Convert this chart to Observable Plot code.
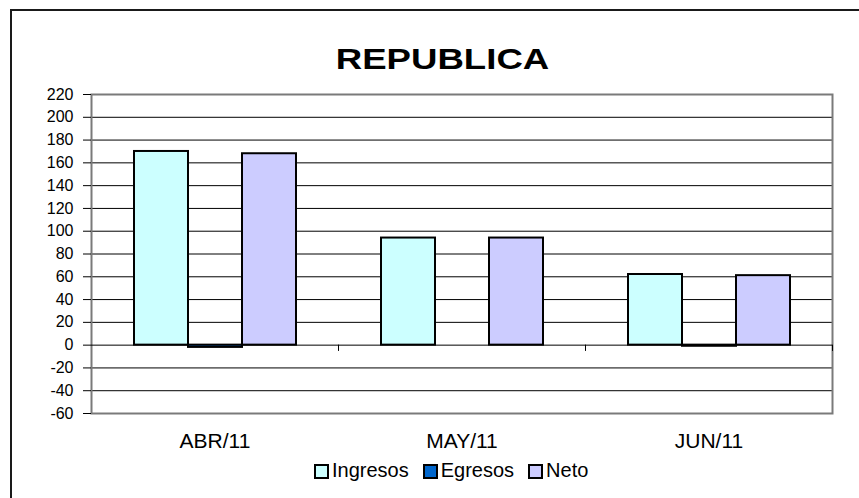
<!DOCTYPE html>
<html>
<head>
<meta charset="utf-8">
<script src="https://cdn.jsdelivr.net/npm/d3@7"></script>
<script src="https://cdn.jsdelivr.net/npm/@observablehq/plot@0.6"></script>
<style>
  html, body { margin: 0; padding: 0; background: #fff; }
  #wrap { position: relative; width: 859px; height: 498px; overflow: hidden; background: #fff;
          font-family: "Liberation Sans", Arial, Helvetica, sans-serif; color: #000; }
  #chart { position: absolute; left: 0; top: 0; }
  #frame { position: absolute; left: 10px; top: 9px; width: 900px; height: 600px;
           border: 2px solid #1a1a1a; box-sizing: border-box; pointer-events: none; }
  #title { position: absolute; left: 0; width: 885px; top: 44px; text-align: center;
           font-size: 30px; line-height: 30px; font-weight: bold; }
  #title span { display: inline-block; transform: scaleX(1.22); }
  #legend { position: absolute; left: 314px; top: 460px; display: flex; align-items: center;
            font-size: 20px; line-height: 20px; white-space: nowrap; }
  #legend .sw { width: 15px; height: 15px; box-sizing: border-box; border: 2px solid #000;
                margin-right: 3px; position: relative; top: 1.5px; }
  #legend .it { display: flex; align-items: center; margin-right: 14px; }
</style>
</head>
<body>
<div id="wrap">
  <div id="chart"></div>
  <div id="title"><span>REPUBLICA</span></div>
  <div id="legend"></div>
  <div id="frame"></div>
</div>
<script>
// ---- data ----
const months = ["ABR/11", "MAY/11", "JUN/11"];
const series = ["Ingresos", "Egresos", "Neto"];
const ingresos = [170, 94, 62];
const egresos = [-2, 0, -1];
const neto = [168, 94, 61];
const yTicks = [-60, -40, -20, 0, 20, 40, 60, 80, 100, 120, 140, 160, 180, 200, 220];
const colors = ["#CCFFFF", "#0066CC", "#CCCCFF"];

const valuesBySeries = [ingresos, egresos, neto];
const data = [];
months.forEach((m, i) => series.forEach((s, j) => data.push({month: m, series: s, value: valuesBySeries[j][i]})));

const yMin = yTicks[0], yMax = yTicks[yTicks.length - 1];
const innerGrid = yTicks.filter(t => t !== yMin && t !== yMax && t !== 0);

const chart = Plot.plot({
  width: 859,
  height: 498,
  marginLeft: 90,
  marginRight: 26,
  marginTop: 94,
  marginBottom: 85,
  style: {background: "transparent", fontFamily: "'Liberation Sans', Arial, sans-serif", color: "#000"},
  fx: {domain: months, padding: 0, label: null},
  x: {domain: series, paddingInner: 0, paddingOuter: 0.75, axis: null},
  y: {domain: [yMin, yMax], label: null},
  color: {domain: series, range: colors},
  marks: [
    Plot.ruleY(innerGrid, {stroke: "#000", strokeWidth: 1}),
    Plot.frame({facet: "super", stroke: "#7a7a7a", strokeWidth: 2}),
    Plot.ruleY([0], {stroke: "#000", strokeWidth: 1}),
    Plot.ruleX(months, {fx: d => d, x: () => "Neto", dx: 69, y1: 0, y2: -5.5, stroke: "#000", strokeWidth: 1}),
    Plot.barY(data, {fx: "month", x: "series", y: "value", fill: "series", stroke: "#000", strokeWidth: 2}),
    Plot.axisY({ticks: yTicks, tickFormat: d => String(d), tickSize: 8, tickPadding: 10, fontSize: 16, stroke: "#000", label: null}),
    Plot.axisFx({anchor: "bottom", tickSize: 0, tickPadding: 20, fontSize: 21, label: null})
  ]
});
document.getElementById("chart").appendChild(chart);

// legend
const legend = document.getElementById("legend");
series.forEach((s, j) => {
  const it = document.createElement("div");
  it.className = "it";
  const sw = document.createElement("div");
  sw.className = "sw";
  sw.style.background = colors[j];
  const tx = document.createElement("span");
  tx.textContent = s;
  it.appendChild(sw);
  it.appendChild(tx);
  legend.appendChild(it);
});
</script>
</body>
</html>
